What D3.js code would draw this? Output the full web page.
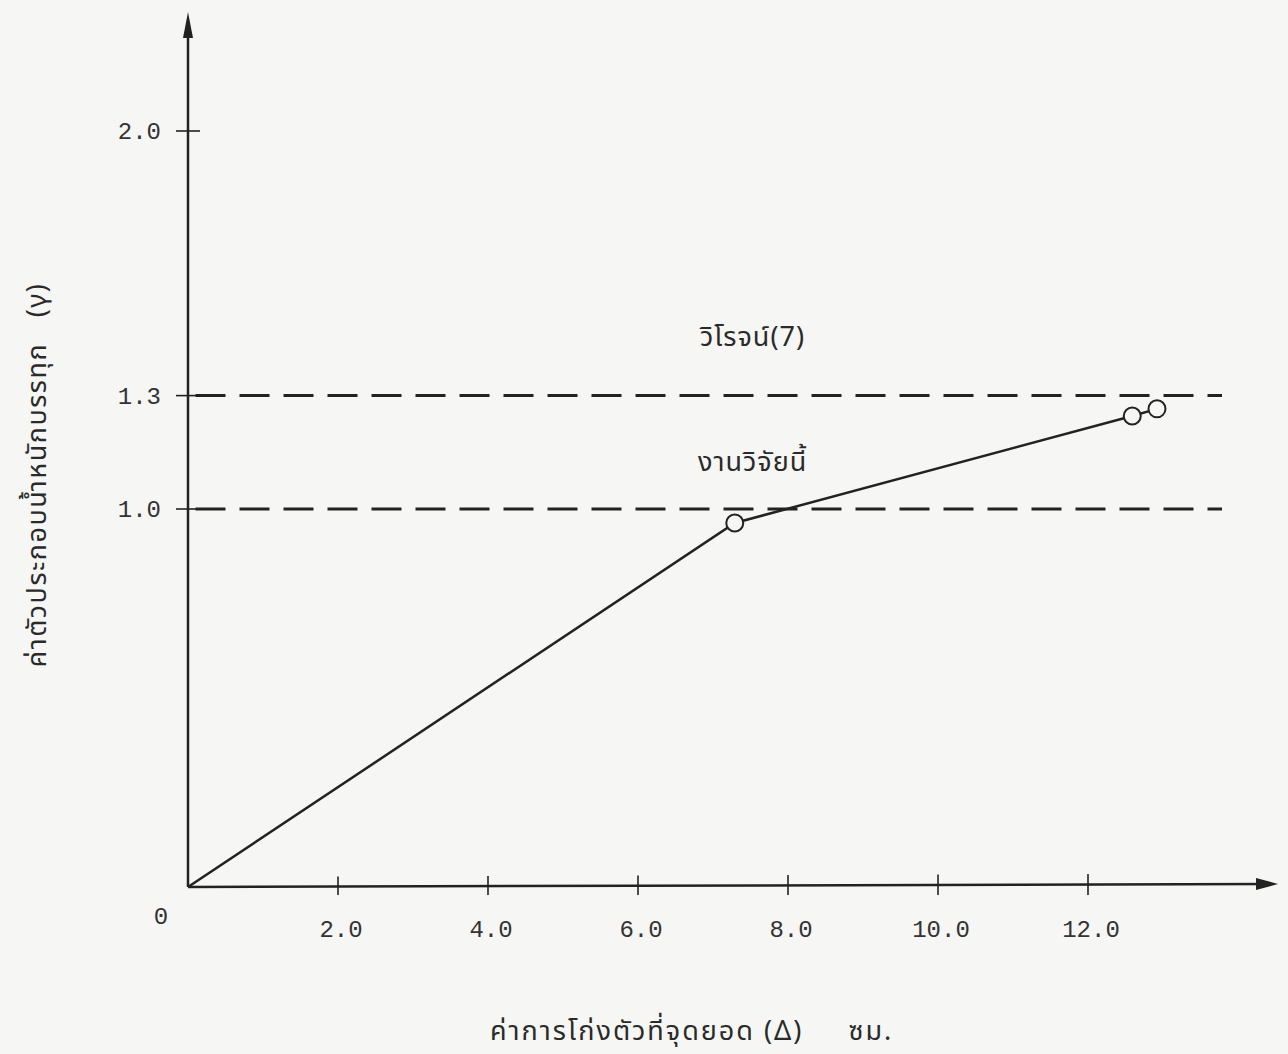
<!DOCTYPE html>
<html>
<head>
<meta charset="utf-8">
<script src="https://cdn.jsdelivr.net/npm/d3@7"></script>
<style>
  body { margin: 0; background: #f6f6f4; }
  text { fill: #2a2a2a; }
  .num { font-family: "Liberation Mono", "DejaVu Sans Mono", monospace; font-size: 24px; fill: #333; }
  .thai { font-family: "Noto Sans", "Noto Sans Thai", sans-serif; font-size: 27px; }
</style>
</head>
<body>
<svg width="1288" height="1054"></svg>
<script>
// measured points (deflection at peak, load factor)
const deflection = [0, 7.29, 12.59];
const loadFactor = [0, 0.963, 1.246];
const extraPoint = [12.92, 1.265];
const circlePoints = [[7.29, 0.963], [12.59, 1.246], [12.92, 1.265]];

const xTicks = [2, 4, 6, 8, 10, 12];
const xTickLabels = ["2.0", "4.0", "6.0", "8.0", "10.0", "12.0"];
const yTicks = [1.0, 1.3, 2.0];
const yTickLabels = ["1.0", "1.3", "2.0"];

const refLines = [
  { y: 1.3, label: "วิโรจน์(7)" },
  { y: 1.0, label: "งานวิจัยนี้" }
];

const svg = d3.select("svg");
const ink = "#222";

// scales: origin at (188, 887)
const x = d3.scaleLinear().domain([0, 12]).range([188, 1088]);
const y = d3.scaleLinear().domain([0, 2]).range([887, 131]);

// x axis with arrow
svg.append("line")
  .attr("x1", x(0)).attr("y1", y(0))
  .attr("x2", 1268).attr("y2", y(0) - 3)
  .attr("stroke", ink).attr("stroke-width", 2.5);
svg.append("path")
  .attr("d", `M1278,${y(0) - 3} L1256,${y(0) - 9} L1256,${y(0) + 3} Z`)
  .attr("fill", ink);

// y axis with arrow
svg.append("line")
  .attr("x1", x(0)).attr("y1", y(0))
  .attr("x2", x(0)).attr("y2", 30)
  .attr("stroke", ink).attr("stroke-width", 2.5);
svg.append("path")
  .attr("d", `M${x(0)},12 L${x(0) - 5},38 L${x(0) + 5},38 Z`)
  .attr("fill", ink);

// x ticks
svg.selectAll(".xt").data(xTicks).enter().append("line")
  .attr("x1", d => x(d)).attr("x2", d => x(d))
  .attr("y1", d => y(0) - 10 - d * 0.25).attr("y2", d => y(0) + 8)
  .attr("stroke", ink).attr("stroke-width", 1.6);
svg.selectAll(".xl").data(xTicks).enter().append("text")
  .attr("class", "num")
  .attr("x", d => x(d) + 3).attr("y", y(0) + 50)
  .attr("text-anchor", "middle")
  .text((d, i) => xTickLabels[i]);

svg.append("text").attr("class", "num")
  .attr("x", 161).attr("y", y(0) + 37)
  .attr("text-anchor", "middle").text("0");

// y ticks
svg.selectAll(".yt").data(yTicks).enter().append("line")
  .attr("x1", x(0) - 12).attr("x2", x(0) + 12)
  .attr("y1", d => y(d)).attr("y2", d => y(d))
  .attr("stroke", ink).attr("stroke-width", 1.6);
svg.selectAll(".yl").data(yTicks).enter().append("text")
  .attr("class", "num")
  .attr("x", x(0) - 27).attr("y", d => y(d) + 8)
  .attr("text-anchor", "end")
  .text((d, i) => yTickLabels[i]);

// dashed reference lines
svg.selectAll(".ref").data(refLines).enter().append("line")
  .attr("x1", x(0.1)).attr("x2", 1222)
  .attr("y1", d => y(d.y)).attr("y2", d => y(d.y))
  .attr("stroke", ink).attr("stroke-width", 3)
  .attr("stroke-dasharray", "30,14");

svg.append("text").attr("class", "thai")
  .attr("x", 700).attr("y", y(1.3) - 50)
  .style("letter-spacing", "1px")
  .text(refLines[0].label);
svg.append("text").attr("class", "thai")
  .attr("x", 698).attr("y", y(1.3) + 75)
  .style("letter-spacing", "1px")
  .text(refLines[1].label);

// test curve
const pts = deflection.map((d, i) => [d, loadFactor[i]]);
pts.push(extraPoint);
svg.append("path")
  .datum(pts)
  .attr("d", d3.line().x(d => x(d[0])).y(d => y(d[1])))
  .attr("fill", "none").attr("stroke", ink).attr("stroke-width", 2.5);

svg.selectAll(".pt").data(circlePoints).enter().append("circle")
  .attr("cx", d => x(d[0])).attr("cy", d => y(d[1]))
  .attr("r", 8.5)
  .attr("fill", "#f6f6f4").attr("stroke", ink).attr("stroke-width", 2);

// axis titles
svg.append("text").attr("class", "thai")
  .attr("x", 490).attr("y", 1040)
  .attr("xml:space", "preserve")
  .style("letter-spacing", "2px")
  .text("ค่าการโก่งตัวที่จุดยอด (Δ)     ซม.");

svg.append("text").attr("class", "thai")
  .attr("transform", "translate(46,475) rotate(-90)")
  .attr("text-anchor", "middle")
  .attr("xml:space", "preserve")
  .style("letter-spacing", "1.5px")
  .text("ค่าตัวประกอบน้ำหนักบรรทุก   (γ)");
</script>
</body>
</html>
